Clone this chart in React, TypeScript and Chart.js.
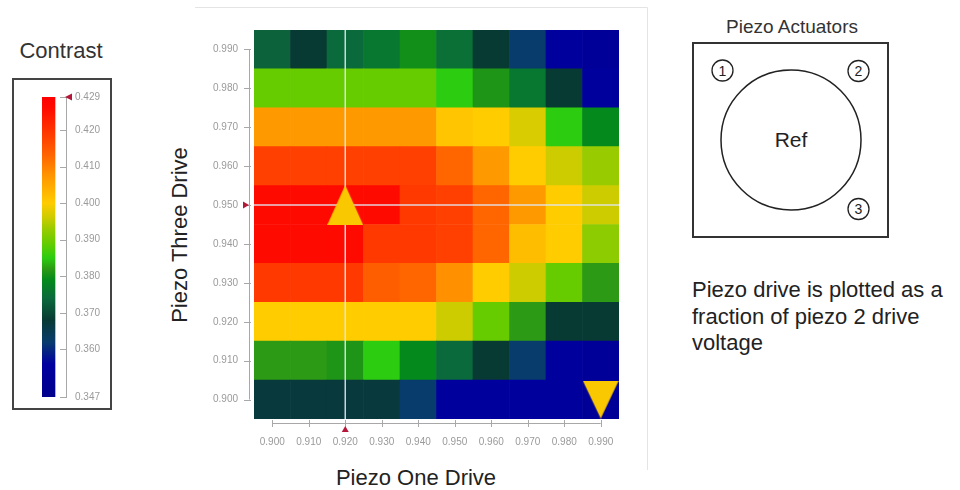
import React, { useEffect, useRef } from 'react';
import { Chart, registerables } from 'chart.js';

Chart.register(...registerables);

// ---------------- data ----------------
const xLabels = ['0.900', '0.910', '0.920', '0.930', '0.940', '0.950', '0.960', '0.970', '0.980', '0.990'];
const yValues = [0.900, 0.910, 0.920, 0.930, 0.940, 0.950, 0.960, 0.970, 0.980, 0.990];

// contrast per cell, one array per Piezo Three Drive row (columns = Piezo One Drive)
const row900 = [0.367, 0.367, 0.367, 0.367, 0.362, 0.354, 0.354, 0.354, 0.354, 0.352];
const row910 = [0.382, 0.382, 0.381, 0.385, 0.379, 0.374, 0.368, 0.362, 0.354, 0.353];
const row920 = [0.400, 0.400, 0.400, 0.400, 0.400, 0.396, 0.389, 0.382, 0.368, 0.368];
const row930 = [0.419, 0.419, 0.419, 0.414, 0.413, 0.408, 0.400, 0.396, 0.389, 0.382];
const row940 = [0.426, 0.426, 0.426, 0.419, 0.419, 0.418, 0.413, 0.402, 0.400, 0.392];
const row950 = [0.426, 0.426, 0.426, 0.426, 0.419, 0.418, 0.413, 0.407, 0.400, 0.396];
const row960 = [0.418, 0.418, 0.418, 0.418, 0.418, 0.413, 0.407, 0.400, 0.396, 0.393];
const row970 = [0.407, 0.407, 0.407, 0.407, 0.407, 0.401, 0.400, 0.397, 0.385, 0.379];
const row980 = [0.389, 0.389, 0.389, 0.389, 0.389, 0.385, 0.381, 0.376, 0.368, 0.354];
const row990 = [0.373, 0.368, 0.374, 0.376, 0.380, 0.375, 0.368, 0.362, 0.354, 0.353];
const contrastRows = [row900, row910, row920, row930, row940, row950, row960, row970, row980, row990];

const colorbarTicks = [0.347, 0.360, 0.370, 0.380, 0.390, 0.400, 0.410, 0.420, 0.429];
const contrastMin = 0.347;
const contrastMax = 0.429;

const peakPoint = { x: '0.920', y: 0.950 };
const lowPoint = { x: '0.990', y: 0.900 };

// colour map
const colorStops: [number, string][] = [
  [0.347, '#00008c'],
  [0.356, '#0000a0'],
  [0.362, '#083c6c'],
  [0.368, '#083a34'],
  [0.374, '#0b6a3c'],
  [0.379, '#048a1c'],
  [0.382, '#2c9a14'],
  [0.385, '#2ccc10'],
  [0.389, '#66cc00'],
  [0.393, '#99cc00'],
  [0.396, '#cccc00'],
  [0.400, '#ffcc00'],
  [0.407, '#ff9900'],
  [0.413, '#ff6600'],
  [0.418, '#ff4000'],
  [0.426, '#ff0a00'],
  [0.429, '#ff0000'],
];

const FONT = "'Liberation Sans', Arial, Helvetica, sans-serif";
const TICK_COLOR = '#9a9a9a';
const MARK_RED = '#b4173a';

function hexToRgb(h: string) {
  const n = parseInt(h.slice(1), 16);
  return [(n >> 16) & 255, (n >> 8) & 255, n & 255];
}

function colorFor(v: number): string {
  if (v <= colorStops[0][0]) return colorStops[0][1];
  for (let i = 1; i < colorStops.length; i++) {
    const [v1, c1] = colorStops[i];
    if (v <= v1) {
      const [v0, c0] = colorStops[i - 1];
      const t = (v - v0) / (v1 - v0);
      const a = hexToRgb(c0);
      const b = hexToRgb(c1);
      const m = a.map((ai, k) => Math.round(ai + (b[k] - ai) * t));
      return `rgb(${m[0]},${m[1]},${m[2]})`;
    }
  }
  return colorStops[colorStops.length - 1][1];
}

function makeTriangle(w: number, h: number, color: string, up: boolean) {
  const c = document.createElement('canvas');
  c.width = w;
  c.height = h;
  const g = c.getContext('2d')!;
  g.fillStyle = color;
  g.beginPath();
  if (up) {
    g.moveTo(w / 2, 0);
    g.lineTo(w, h);
    g.lineTo(0, h);
  } else {
    g.moveTo(0, 0);
    g.lineTo(w, 0);
    g.lineTo(w / 2, h);
  }
  g.closePath();
  g.fill();
  return c;
}

const heatmapDecor = {
  id: 'heatmapDecor',
  afterDatasetDraw(chart: any, args: any) {
    if (args.index !== 0) return;
    const { ctx, chartArea, scales } = chart;
    const px = scales.x.getPixelForValue(xLabels.indexOf(peakPoint.x));
    const py = scales.y.getPixelForValue(peakPoint.y);
    ctx.save();
    ctx.strokeStyle = 'rgba(226,230,238,0.9)';
    ctx.lineWidth = 1.5;
    ctx.beginPath();
    ctx.moveTo(px, chartArea.top);
    ctx.lineTo(px, chartArea.bottom);
    ctx.moveTo(chartArea.left, py);
    ctx.lineTo(chartArea.right, py);
    ctx.stroke();
    ctx.restore();
  },
  afterDraw(chart: any) {
    const { ctx, chartArea, scales } = chart;
    const xs = scales.x;
    const ys = scales.y;
    ctx.save();
    ctx.strokeStyle = '#a8a8a8';
    ctx.lineWidth = 1;
    // x axis
    const axY = Math.round(chartArea.bottom + 4) + 0.5;
    const x0 = xs.getPixelForValue(0);
    const x1 = xs.getPixelForValue(xLabels.length - 1);
    ctx.beginPath();
    ctx.moveTo(x0, axY);
    ctx.lineTo(x1, axY);
    xLabels.forEach((_, i) => {
      const p = Math.round(xs.getPixelForValue(i)) + 0.5;
      ctx.moveTo(p, chartArea.bottom + 1);
      ctx.lineTo(p, chartArea.bottom + 8);
    });
    // y axis
    const axX = Math.round(chartArea.left - 4) - 0.5;
    const y0 = ys.getPixelForValue(yValues[0]);
    const y1 = ys.getPixelForValue(yValues[yValues.length - 1]);
    ctx.moveTo(axX, y0);
    ctx.lineTo(axX, y1);
    yValues.forEach((v) => {
      const p = Math.round(ys.getPixelForValue(v)) + 0.5;
      ctx.moveTo(chartArea.left - 10, p);
      ctx.lineTo(chartArea.left - 3, p);
    });
    ctx.stroke();
    // red position markers
    const mx = xs.getPixelForValue(xLabels.indexOf(peakPoint.x));
    const my = ys.getPixelForValue(peakPoint.y);
    ctx.fillStyle = MARK_RED;
    ctx.beginPath();
    ctx.moveTo(mx, chartArea.bottom + 7);
    ctx.lineTo(mx + 3.5, chartArea.bottom + 13);
    ctx.lineTo(mx - 3.5, chartArea.bottom + 13);
    ctx.closePath();
    ctx.fill();
    ctx.beginPath();
    ctx.moveTo(chartArea.left - 5, my);
    ctx.lineTo(chartArea.left - 11, my - 3.5);
    ctx.lineTo(chartArea.left - 11, my + 3.5);
    ctx.closePath();
    ctx.fill();
    ctx.restore();
  },
};

const colorbarDecor = {
  id: 'colorbarDecor',
  beforeDatasetsDraw(chart: any) {
    const ys = chart.scales.y;
    const a = ys.getPixelForValue(contrastMin);
    const b = ys.getPixelForValue(contrastMax);
    if (!isFinite(a) || !isFinite(b)) return;
    const g = chart.ctx.createLinearGradient(0, a, 0, b);
    colorStops.forEach(([v, col]) =>
      g.addColorStop((v - contrastMin) / (contrastMax - contrastMin), col)
    );
    const meta = chart.getDatasetMeta(0);
    meta.data.forEach((el: any) => {
      if (el && el.options) el.options.backgroundColor = g;
    });
  },
  afterDraw(chart: any) {
    const { ctx } = chart;
    const ys = chart.scales.y;
    ctx.save();
    ctx.strokeStyle = '#a8a8a8';
    ctx.lineWidth = 1;
    ctx.beginPath();
    colorbarTicks.forEach((v) => {
      const p = Math.round(ys.getPixelForValue(v)) + 0.5;
      ctx.moveTo(ys.left - 6, p);
      ctx.lineTo(ys.left, p);
    });
    ctx.stroke();
    const py = ys.getPixelForValue(contrastMax);
    ctx.fillStyle = MARK_RED;
    ctx.beginPath();
    ctx.moveTo(ys.left - 1, py);
    ctx.lineTo(ys.left + 6, py - 3.5);
    ctx.lineTo(ys.left + 6, py + 3.5);
    ctx.closePath();
    ctx.fill();
    ctx.restore();
  },
};

export default function App() {
  const barRef = useRef<HTMLCanvasElement | null>(null);
  const heatRef = useRef<HTMLCanvasElement | null>(null);

  useEffect(() => {
    const tickFont = { family: FONT, size: 10 };

    const colorbar = new Chart(barRef.current!, {
      type: 'bar',
      data: {
        labels: ['bar', ''],
        datasets: [
          {
            data: [[contrastMin, contrastMax], null] as any,
            barThickness: 14,
            borderWidth: 0,
            backgroundColor: colorFor(contrastMax),
          },
        ],
      },
      options: {
        animation: false,
        responsive: false,
        maintainAspectRatio: false,
        events: [],
        layout: { padding: { left: 42, right: 14, top: 97, bottom: 93 } },
        plugins: { legend: { display: false }, tooltip: { enabled: false } },
        scales: {
          x: { display: false },
          y: {
            position: 'right',
            min: contrastMin,
            max: contrastMax,
            afterBuildTicks: (s: any) => {
              s.ticks = colorbarTicks.map((v) => ({ value: v }));
            },
            afterFit: (s: any) => {
              s.width = 40;
            },
            grid: { display: false, drawTicks: false },
            border: { display: true, color: '#a8a8a8', width: 1 },
            ticks: {
              padding: 9,
              color: TICK_COLOR,
              font: tickFont,
              callback: (v: any) => Number(v).toFixed(3),
            },
          },
        },
      } as any,
      plugins: [colorbarDecor],
    });

    const upTri = makeTriangle(36, 40, '#fac800', true);
    const downTri = makeTriangle(36, 38, '#fac800', false);

    const barDatasets = yValues.map((y, i) => ({
      type: 'bar',
      label: y.toFixed(3),
      data: xLabels.map(() => [y - 0.005, y + 0.005]),
      backgroundColor: contrastRows[i].map(colorFor),
      grouped: false,
      barPercentage: 1,
      categoryPercentage: 1,
      borderWidth: 0,
      order: 1,
    }));

    const markerDataset = {
      type: 'scatter',
      label: 'markers',
      data: [peakPoint, lowPoint],
      pointStyle: [upTri, downTri],
      pointRadius: 18,
      order: 0,
    };

    const heat = new Chart(heatRef.current!, {
      type: 'bar',
      data: {
        labels: xLabels,
        datasets: [...barDatasets, markerDataset] as any,
      },
      options: {
        animation: false,
        responsive: false,
        maintainAspectRatio: false,
        events: [],
        layout: { padding: { left: 44, right: 41, top: 30, bottom: 31 } },
        plugins: { legend: { display: false }, tooltip: { enabled: false } },
        scales: {
          x: {
            type: 'category',
            offset: true,
            grid: { display: false, drawTicks: false },
            border: { display: false },
            ticks: {
              padding: 17,
              color: TICK_COLOR,
              font: tickFont,
              maxRotation: 0,
              autoSkip: false,
            },
            afterFit: (s: any) => {
              s.height = 40;
            },
          },
          y: {
            type: 'linear',
            min: 0.895,
            max: 0.995,
            afterBuildTicks: (s: any) => {
              s.ticks = yValues.map((v) => ({ value: v }));
            },
            afterFit: (s: any) => {
              s.width = 60;
            },
            grid: { display: false, drawTicks: false },
            border: { display: false },
            ticks: {
              padding: 16,
              color: TICK_COLOR,
              font: tickFont,
              callback: (v: any) => Number(v).toFixed(3),
            },
          },
        },
      } as any,
      plugins: [heatmapDecor],
    });

    return () => {
      colorbar.destroy();
      heat.destroy();
    };
  }, []);

  return (
    <div
      style={{
        position: 'fixed',
        left: 0,
        top: 0,
        width: 960,
        height: 490,
        background: '#ffffff',
        overflow: 'hidden',
        fontFamily: FONT,
      }}
    >
      <svg
        width={960}
        height={490}
        style={{ position: 'absolute', left: 0, top: 0 }}
        fontFamily={FONT}
      >
        {/* colour bar legend */}
        <text x={61} y={58} fontSize={22} textAnchor="middle" fill="#333">Contrast</text>
        <rect x={13} y={79} width={98} height={330} fill="none" stroke="#444" strokeWidth={2} />

        {/* heat-map panel frame */}
        <line x1={195} y1={7.5} x2={647.5} y2={7.5} stroke="#e4e4e4" strokeWidth={1} />
        <line x1={647.5} y1={7.5} x2={647.5} y2={470} stroke="#e4e4e4" strokeWidth={1} />

        {/* axis titles */}
        <text x={416} y={485} fontSize={22} textAnchor="middle" fill="#222">Piezo One Drive</text>
        <text
          x={179}
          y={243}
          fontSize={22}
          textAnchor="middle"
          fill="#222"
          transform="rotate(-90 179 235)"
        >
          Piezo Three Drive
        </text>

        {/* actuator diagram */}
        <text x={792} y={33} fontSize={19} textAnchor="middle" fill="#333">Piezo Actuators</text>
        <rect x={693} y={43} width={195} height={194} fill="none" stroke="#333" strokeWidth={2} />
        <circle cx={791} cy={140} r={70} fill="none" stroke="#222" strokeWidth={1.5} />
        <text x={791} y={147} fontSize={21} textAnchor="middle" fill="#222">Ref</text>
        <circle cx={722.5} cy={70.5} r={10.5} fill="none" stroke="#222" strokeWidth={1.3} />
        <text x={722.5} y={75.5} fontSize={14} textAnchor="middle" fill="#222">1</text>
        <circle cx={858.5} cy={71} r={10.5} fill="none" stroke="#222" strokeWidth={1.3} />
        <text x={858.5} y={76} fontSize={14} textAnchor="middle" fill="#222">2</text>
        <circle cx={858.5} cy={209} r={10.5} fill="none" stroke="#222" strokeWidth={1.3} />
        <text x={858.5} y={214} fontSize={14} textAnchor="middle" fill="#222">3</text>

        <text x={692} y={297} fontSize={22} fill="#222">Piezo drive is plotted as a</text>
        <text x={692} y={323.5} fontSize={22} fill="#222">fraction of piezo 2 drive</text>
        <text x={692} y={350} fontSize={22} fill="#222">voltage</text>
      </svg>

      <canvas
        ref={barRef}
        width={120}
        height={490}
        style={{ position: 'absolute', left: 0, top: 0, width: 120, height: 490 }}
      />
      <canvas
        ref={heatRef}
        width={510}
        height={490}
        style={{ position: 'absolute', left: 150, top: 0, width: 510, height: 490 }}
      />
    </div>
  );
}
